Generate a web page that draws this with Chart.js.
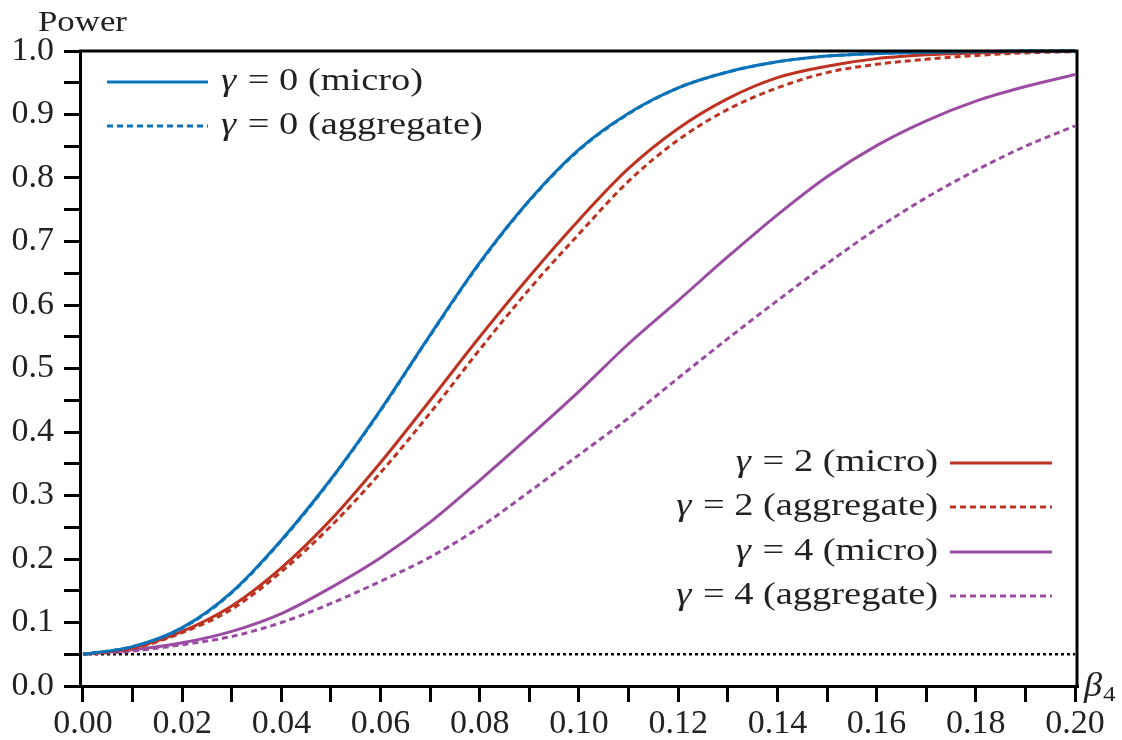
<!DOCTYPE html>
<html>
<head>
<meta charset="utf-8">
<script src="https://cdn.jsdelivr.net/npm/chart.js@4/dist/chart.umd.min.js"></script>
<style>
  html, body { margin: 0; padding: 0; background: #fff; }
  #wrap { width: 1122px; height: 740px; }
</style>
</head>
<body>
<div id="wrap"><canvas id="power"></canvas></div>
<script>
// beta_4 grid
const betaValues = [0.00, 0.01, 0.02, 0.03, 0.04, 0.05, 0.06, 0.07, 0.08, 0.09, 0.10,
                    0.11, 0.12, 0.13, 0.14, 0.15, 0.16, 0.17, 0.18, 0.19, 0.20];

// power curves
const gamma0Micro = [0.050, 0.062, 0.092, 0.148, 0.230, 0.326, 0.435, 0.553, 0.667, 0.765, 0.845,
                     0.902, 0.942, 0.967, 0.983, 0.992, 0.996, 0.998, 0.999, 1.000, 1.000];
const gamma0Agg   = [0.050, 0.062, 0.091, 0.147, 0.229, 0.325, 0.434, 0.552, 0.666, 0.764, 0.844,
                     0.901, 0.942, 0.967, 0.983, 0.992, 0.996, 0.998, 0.999, 1.000, 1.000];
const gamma2Micro = [0.050, 0.060, 0.086, 0.126, 0.186, 0.262, 0.352, 0.450, 0.550, 0.645, 0.734,
                     0.815, 0.878, 0.925, 0.958, 0.976, 0.988, 0.994, 0.997, 0.999, 1.000];
const gamma2Agg   = [0.050, 0.059, 0.084, 0.121, 0.180, 0.252, 0.336, 0.430, 0.530, 0.625, 0.712,
                     0.795, 0.860, 0.908, 0.942, 0.966, 0.979, 0.987, 0.993, 0.997, 0.999];
const gamma4Micro = [0.050, 0.057, 0.068, 0.086, 0.114, 0.155, 0.202, 0.258, 0.324, 0.393, 0.464,
                     0.539, 0.607, 0.676, 0.742, 0.802, 0.851, 0.890, 0.921, 0.944, 0.963];
const gamma4Agg   = [0.050, 0.055, 0.065, 0.078, 0.100, 0.130, 0.165, 0.203, 0.250, 0.306, 0.364,
                     0.422, 0.485, 0.547, 0.607, 0.665, 0.720, 0.769, 0.812, 0.850, 0.882];

// nominal size line
const nominalX = [0.00, 0.20];
const nominalSize = [0.05, 0.05];

const BLUE = '#0b72b9';
const RED = '#bd3321';
const PURPLE = '#9a4ca3';
const INK = '#222';
const SERIF = '"Liberation Serif", "DejaVu Serif", serif';

const toPoints = (xs, ys) => xs.map((x, i) => ({ x: x, y: ys[i] }));

function curve(label, values, color, dashed) {
    return {
        label: label,
        data: toPoints(betaValues, values),
        borderColor: color,
        backgroundColor: color,
        borderWidth: 3,
        borderDash: dashed ? [6, 4] : [],
        pointRadius: 0,
        cubicInterpolationMode: 'monotone',
        fill: false,
        clip: 4
    };
}

// text stretched sideways, the serif face is narrower than the one wanted
function stretchedText(ctx, text, x, y, sx) {
    ctx.save();
    ctx.translate(x, y);
    ctx.scale(sx, 1);
    ctx.fillText(text, 0, 0);
    ctx.restore();
    return ctx.measureText(text).width * sx;
}

const LEGEND_SX = 1.24;

// "γ = 2 (micro)" with an italic gamma
function drawGammaLabel(ctx, gamma, kind, x, y, align) {
    const upright = '31px ' + SERIF;
    const italic = 'italic 31px ' + SERIF;
    const rest = ' = ' + gamma + ' (' + kind + ')';
    ctx.font = italic;
    const wg = ctx.measureText('γ').width * LEGEND_SX;
    ctx.font = upright;
    const wr = ctx.measureText(rest).width * LEGEND_SX;
    const left = align === 'right' ? x - wg - wr - 2 : x;
    ctx.textAlign = 'left';
    ctx.textBaseline = 'middle';
    ctx.fillStyle = INK;
    ctx.font = italic;
    stretchedText(ctx, 'γ', left, y, LEGEND_SX);
    ctx.font = upright;
    stretchedText(ctx, rest, left + wg + 2, y, LEGEND_SX);
}

function drawSample(ctx, x0, x1, y, color, dashed) {
    ctx.save();
    ctx.strokeStyle = color;
    ctx.lineWidth = 3;
    ctx.setLineDash(dashed ? [6, 4] : []);
    ctx.beginPath();
    ctx.moveTo(x0, y);
    ctx.lineTo(x1, y);
    ctx.stroke();
    ctx.restore();
}

const framePlugin = {
    id: 'frameAndLegend',
    afterDraw(chart) {
        const { ctx, chartArea } = chart;
        ctx.save();

        // top and right sides of the box
        ctx.strokeStyle = '#000';
        ctx.lineWidth = 3;
        ctx.beginPath();
        ctx.moveTo(chartArea.left - 1, chartArea.top);
        ctx.lineTo(chartArea.right, chartArea.top);
        ctx.lineTo(chartArea.right, chartArea.bottom + 1);
        ctx.stroke();

        // legend, upper left
        drawSample(ctx, 107, 208, 82, BLUE, false);
        drawGammaLabel(ctx, 0, 'micro', 221, 82, 'left');
        drawSample(ctx, 107, 208, 126, BLUE, true);
        drawGammaLabel(ctx, 0, 'aggregate', 221, 126, 'left');

        // legend, lower right
        const rows = [
            [2, 'micro', RED, false, 463],
            [2, 'aggregate', RED, true, 507],
            [4, 'micro', PURPLE, false, 552],
            [4, 'aggregate', PURPLE, true, 596]
        ];
        rows.forEach(r => {
            drawGammaLabel(ctx, r[0], r[1], 938, r[4], 'right');
            drawSample(ctx, 950, 1052, r[4], r[2], r[3]);
        });

        // axis titles
        ctx.fillStyle = INK;
        ctx.textAlign = 'left';
        ctx.textBaseline = 'alphabetic';
        ctx.font = '29px ' + SERIF;
        stretchedText(ctx, 'Power', 38, 31, 1.2);

        ctx.font = 'italic 33px ' + SERIF;
        stretchedText(ctx, 'β', 1084, 696, 1.1);
        ctx.font = '22px ' + SERIF;
        stretchedText(ctx, '4', 1103, 701, 1.15);

        ctx.restore();
    }
};

const ctx = document.getElementById('power').getContext('2d');
new Chart(ctx, {
    type: 'line',
    data: {
        datasets: [
            curve('γ = 0 (micro)', gamma0Micro, BLUE, false),
            curve('γ = 0 (aggregate)', gamma0Agg, BLUE, true),
            curve('γ = 2 (micro)', gamma2Micro, RED, false),
            curve('γ = 2 (aggregate)', gamma2Agg, RED, true),
            curve('γ = 4 (micro)', gamma4Micro, PURPLE, false),
            curve('γ = 4 (aggregate)', gamma4Agg, PURPLE, true),
            {
                label: 'size',
                data: toPoints(nominalX, nominalSize),
                borderColor: '#000',
                borderWidth: 2.5,
                borderDash: [3, 3],
                pointRadius: 0,
                fill: false
            }
        ]
    },
    options: {
        responsive: true,
        maintainAspectRatio: false,
        animation: false,
        events: [],
        layout: { padding: { top: 51, right: 45, left: 0, bottom: 0 } },
        plugins: {
            legend: { display: false },
            tooltip: { enabled: false }
        },
        scales: {
            x: {
                type: 'linear',
                min: -0.0006,
                max: 0.2004,
                afterBuildTicks: (scale) => {
                    scale.ticks = betaValues.map(v => ({ value: v }));
                },
                afterFit: (scale) => { scale.height = 54; },
                border: { display: true, color: '#000', width: 3 },
                grid: {
                    display: true,
                    drawOnChartArea: false,
                    drawTicks: true,
                    tickLength: 16,
                    color: '#000',
                    lineWidth: 3
                },
                ticks: {
                    autoSkip: false,
                    maxRotation: 0,
                    padding: 2,
                    color: INK,
                    font: { family: SERIF, size: 34 },
                    callback: (value) => {
                        const k = Math.round(value * 100);
                        return k % 2 === 0 ? (k / 100).toFixed(2) : '';
                    }
                }
            },
            y: {
                type: 'linear',
                min: 0,
                max: 1,
                afterFit: (scale) => { scale.width = 80; },
                border: { display: true, color: '#000', width: 3 },
                grid: {
                    display: true,
                    drawOnChartArea: false,
                    drawTicks: true,
                    tickLength: 16,
                    color: '#000',
                    lineWidth: 3
                },
                ticks: {
                    stepSize: 0.05,
                    autoSkip: false,
                    padding: 10,
                    color: INK,
                    font: { family: SERIF, size: 34 },
                    callback: (value) => {
                        const k = Math.round(value * 20);
                        return k % 2 === 0 ? (k / 20).toFixed(1) : '';
                    }
                }
            }
        }
    },
    plugins: [framePlugin]
});
</script>
</body>
</html>
